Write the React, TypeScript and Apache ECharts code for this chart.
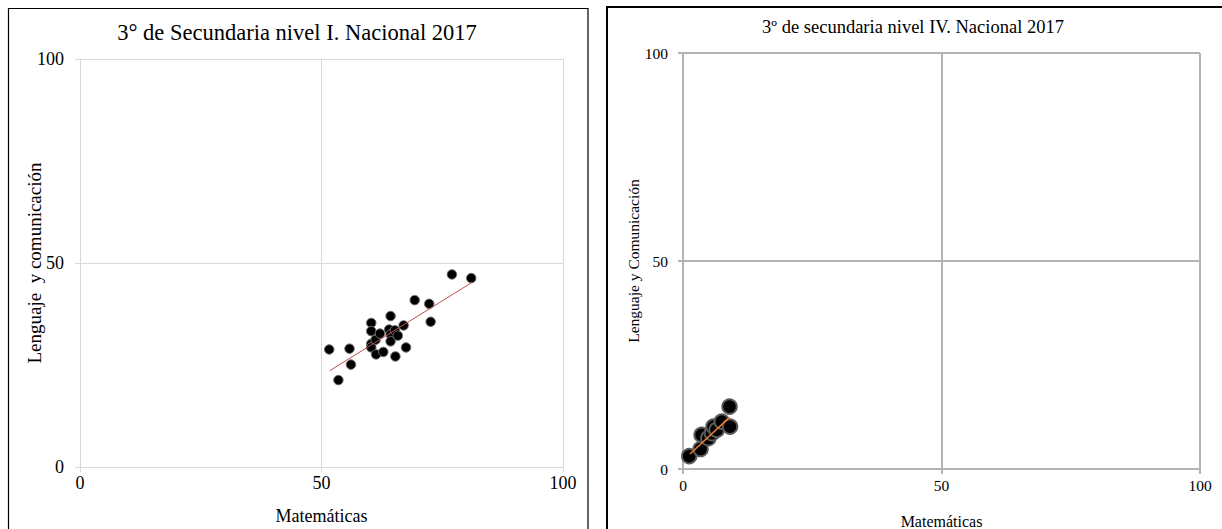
import React, { useEffect, useRef } from "react";
import * as echarts from "echarts";

const FONT = "Liberation Serif";

const titleLeft = "3° de Secundaria nivel I. Nacional 2017";
const titleRight = "3º de secundaria nivel IV. Nacional 2017";
const xNameLeft = "Matemáticas";
const yNameLeft = "Lenguaje  y comunicación";
const xNameRight = "Matemáticas";
const yNameRight = "Lenguaje y Comunicación";

const leftPoints: [number, number][] = [
  [51.6, 28.8], [53.5, 21.3], [55.8, 29.0], [56.1, 25.1], [60.3, 35.3],
  [60.3, 33.3], [60.3, 30.2], [60.3, 29.3], [61.2, 31.2], [61.3, 27.6],
  [62.1, 32.7], [62.8, 28.2], [64.0, 33.7], [64.3, 37.0], [64.3, 32.5],
  [64.3, 30.8], [65.2, 33.5], [65.3, 27.1], [65.8, 32.2], [67.0, 34.7],
  [67.5, 29.3], [69.3, 40.9], [72.3, 40.0], [72.6, 35.6], [77.0, 47.2],
  [81.0, 46.3],
];
const leftTrend: [number, number][] = [[51.7, 23.6], [81.1, 45.2]];

const rightPoints: [number, number][] = [
  [1.2, 3.1], [3.4, 4.8], [3.6, 8.2], [4.9, 7.4], [5.6, 8.6],
  [5.9, 10.2], [6.5, 9.4], [7.5, 11.4], [9.0, 15.0], [9.1, 10.2],
];
const rightTrend: [number, number][] = [[1.35, 3.6], [9.0, 12.4]];

export default function App() {
  const ref = useRef<HTMLDivElement>(null);
  useEffect(() => {
    if (!ref.current) return;
    const chart = echarts.init(ref.current, undefined, { renderer: "svg" });
    const leftGrid = "#d9d9d9";
    const rightGrid = "#b3b3b3";
    const mkAxis = (idx: number, name: string, color: string, lw: number, fs: number, nfs: number, gap: number, margin: number) => ({
      type: "value", gridIndex: idx, min: 0, max: 100, interval: 50,
      name, nameLocation: "middle", nameGap: gap, nameMoveOverlap: false,
      nameTextStyle: { fontFamily: FONT, fontSize: nfs, color: "#000" },
      axisLine: { show: true, lineStyle: { color, width: lw } },
      axisTick: { show: true, length: 5, lineStyle: { color, width: lw } },
      axisLabel: { fontFamily: FONT, fontSize: fs, color: "#000", margin },
      splitLine: { show: true, lineStyle: { color, width: lw } },
    });
    chart.setOption({
      animation: false,
      backgroundColor: "#fff",
      title: [
        { text: titleLeft, left: 292, top: 16, textAlign: "center",
          textStyle: { fontFamily: FONT, fontSize: 22.5, fontWeight: "normal", color: "#000" } },
        { text: titleRight, left: 908, top: 12, textAlign: "center",
          textStyle: { fontFamily: FONT, fontSize: 18.5, fontWeight: "normal", color: "#000" } },
      ],
      graphic: [
        { type: "rect", shape: { x: 8.5, y: 8.5, width: 579.5, height: 560 },
          style: { fill: "none", stroke: "#000", lineWidth: 1.2 }, z: 100 },
        { type: "rect", shape: { x: 607, y: 7, width: 700, height: 600 },
          style: { fill: "none", stroke: "#000", lineWidth: 2 }, z: 100 },
      ],
      grid: [
        { left: 80, top: 59, width: 483, height: 408, outerBoundsMode: "none", containLabel: false },
        { left: 683, top: 53, width: 517, height: 416, outerBoundsMode: "none", containLabel: false },
      ],
      xAxis: [
        mkAxis(0, xNameLeft, leftGrid, 1, 18, 18, 40, 7),
        mkAxis(1, xNameRight, rightGrid, 2, 15.5, 16, 44, 8),
      ],
      yAxis: [
        mkAxis(0, yNameLeft, leftGrid, 1, 18, 19, 36, 16),
        mkAxis(1, yNameRight, rightGrid, 2, 15.5, 15.5, 42, 15),
      ],
      series: [
        { type: "scatter", xAxisIndex: 0, yAxisIndex: 0, data: leftPoints, symbolSize: 9.5,
          itemStyle: { color: "#000", borderColor: "#6e6e6e", borderWidth: 1, opacity: 1 }, z: 2 },
        { type: "line", xAxisIndex: 0, yAxisIndex: 0, data: leftTrend, symbol: "none",
          lineStyle: { color: "#c0504d", width: 1 }, z: 3 },
        { type: "scatter", xAxisIndex: 1, yAxisIndex: 1, data: rightPoints, symbolSize: 14.5,
          itemStyle: { color: "#000", borderColor: "#5a5a5a", borderWidth: 2, opacity: 1 }, z: 2 },
        { type: "line", xAxisIndex: 1, yAxisIndex: 1, data: rightTrend, symbol: "none",
          lineStyle: { color: "#ed7d31", width: 1.5 }, z: 3 },
      ],
    });
    return () => chart.dispose();
  }, []);
  return (
    <div ref={ref} style={{ position: "fixed", left: 0, top: 0, width: 1222, height: 529 }} />
  );
}
